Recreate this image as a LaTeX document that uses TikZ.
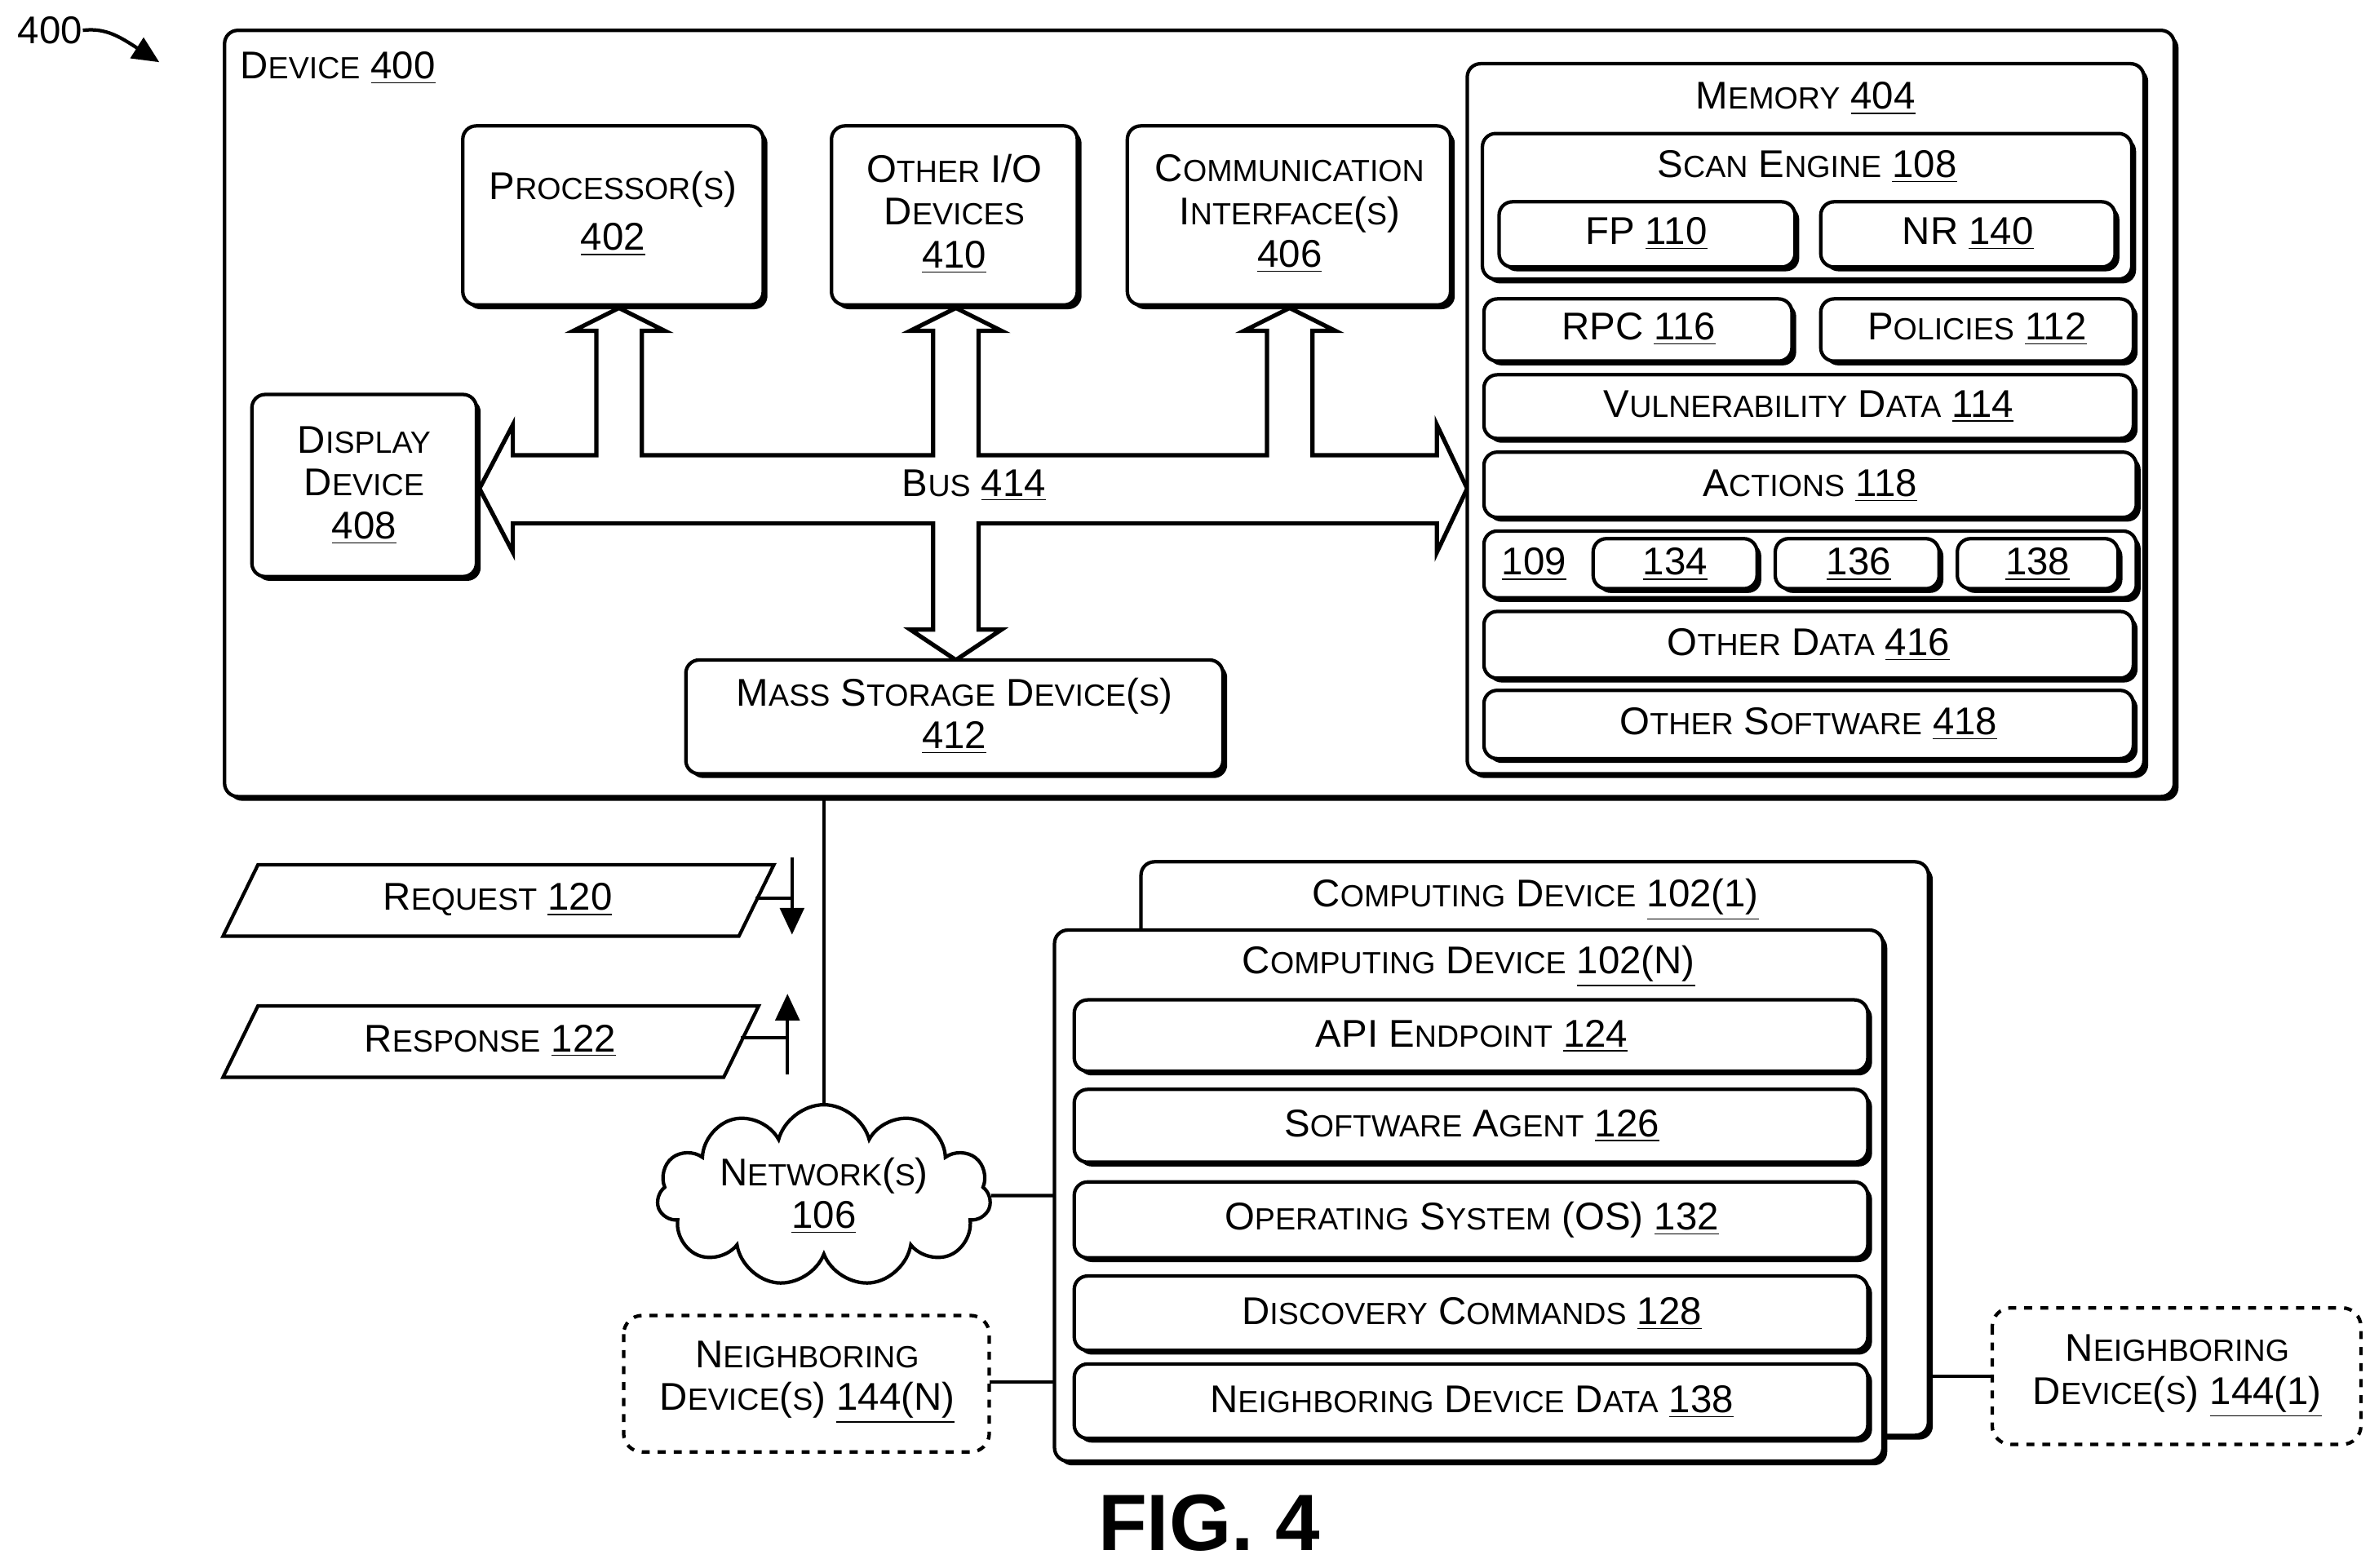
\documentclass[tikz,border=0pt]{standalone}
\usepackage{fontspec}
\setmainfont{Liberation Sans}
\usetikzlibrary{shadows,shapes.symbols,arrows.meta}
\newcommand\sm[1]{{\fontsize{11.5}{18}\selectfont #1}}
\newcommand\ul[1]{\underline{#1}}
\begin{document}
\begin{tikzpicture}[x=0.02cm,y=-0.02cm,
  every node/.style={font=\fontsize{14.5}{17}\selectfont, align=center, inner sep=0pt},
  box/.style={draw, line width=1.3pt, rounded corners=5pt, fill=white,
     drop shadow={shadow xshift=1.6pt, shadow yshift=-1.6pt, fill=black, opacity=1}},
  nb/.style={draw, line width=1.3pt, dashed, rounded corners=7pt, fill=white},
  ln/.style={line width=1.3pt},
  arr/.style={line width=1.3pt, -{Triangle[length=10pt,width=9pt]}}]
\useasboundingbox (0,0) rectangle (1562,1033);
% 400
\node (l400) at (33,20) {400};
\coordinate (a400) at (105,41);
\draw[arr] (l400.east) .. controls (70,18) and (80,25) .. (a400);
% Device 400
\draw[box] (148,20) rectangle (1433,525);
\node[anchor=west] (dev) at (158,45) {D\sm{EVICE} \ul{400}};
% Bus
\draw[line width=1.6pt, fill=white] (316,322) -- (338,280) -- (338,300) -- (393,300) -- (393,218) -- (378,218) -- (408,203) -- (438,218) -- (423,218) -- (423,300) -- (615,300) -- (615,218) -- (600,218) -- (630,203) -- (660,218) -- (645,218) -- (645,300) -- (835,300) -- (835,218) -- (820,218) -- (850,203) -- (880,218) -- (865,218) -- (865,300) -- (947,300) -- (947,280) -- (967,322) -- (947,364) -- (947,345) -- (645,345) -- (645,415) -- (660,415) -- (630,435) -- (600,415) -- (615,415) -- (615,345) -- (338,345) -- (338,364) -- cycle;
\node[fill=white, inner sep=1pt] (bus) at (642,320) {B\sm{US} \ul{414}};
% top boxes
\draw[box] (305,83) rectangle (503,201);
\node (proc) at (404,141) {P\sm{ROCESSOR}(\sm{S})\\[2pt]\ul{402}};
\draw[box] (548,83) rectangle (710,201);
\node (io) at (629,141) {O\sm{THER} I/O\\[-1pt]D\sm{EVICES}\\[-1pt]\ul{410}};
\draw[box] (743,83) rectangle (956,201);
\node (comm) at (850,141) {C\sm{OMMUNICATION}\\[-1pt]I\sm{NTERFACE}(\sm{S})\\[-1pt]\ul{406}};
\draw[box] (166,260) rectangle (314,380);
\node (disp) at (240,320) {D\sm{ISPLAY}\\[-1pt]D\sm{EVICE}\\[-1pt]\ul{408}};
\draw[box] (452,435) rectangle (806,510);
\node (mass) at (629,472) {M\sm{ASS} S\sm{TORAGE} D\sm{EVICE}(\sm{S})\\[-1pt]\ul{412}};
% Memory
\draw[box] (967,42) rectangle (1413,510);
\node (mem) at (1190,65) {M\sm{EMORY} \ul{404}};
\draw[box] (977,88) rectangle (1405,184);
\node (scan) at (1191,110) {S\sm{CAN} E\sm{NGINE} \ul{108}};
\draw[box] (988,133) rectangle (1183,176); \node (fp) at (1085,154) {FP \ul{110}};
\draw[box] (1200,133) rectangle (1394,176); \node (nr) at (1297,154) {NR \ul{140}};
\draw[box] (978,197) rectangle (1181,238); \node (rpc) at (1080,217) {RPC \ul{116}};
\draw[box] (1200,197) rectangle (1406,238); \node (pol) at (1303,217) {P\sm{OLICIES} \ul{112}};
\draw[box] (978,247) rectangle (1406,289); \node (vul) at (1192,268) {V\sm{ULNERABILITY} D\sm{ATA} \ul{114}};
\draw[box] (978,298) rectangle (1408,341); \node (act) at (1193,320) {A\sm{CTIONS} \ul{118}};
\draw[box] (978,350) rectangle (1408,394); \node (n109) at (1011,372) {\ul{109}};
\draw[box] (1050,355) rectangle (1158,388); \node (n134) at (1104,372) {\ul{134}};
\draw[box] (1170,355) rectangle (1278,388); \node (n136) at (1225,372) {\ul{136}};
\draw[box] (1290,355) rectangle (1396,388); \node (n138) at (1343,372) {\ul{138}};
\draw[box] (978,403) rectangle (1406,447); \node (od) at (1192,425) {O\sm{THER} D\sm{ATA} \ul{416}};
\draw[box] (978,455) rectangle (1406,500); \node (os) at (1192,477) {O\sm{THER} S\sm{OFTWARE} \ul{418}};
% network
\node[cloud, draw, line width=1.3pt, fill=white, cloud puffs=11, minimum width=4.4cm, minimum height=1.95cm, aspect=2.4] (net) at (543,788) {N\sm{ETWORK}(\sm{S})\\[-1pt]\ul{106}};
\coordinate (devb) at (543,525);
\draw[ln] (devb) -- (net.north);
% request / response
\draw[ln, fill=white] (147,617) -- (170,570) -- (510,570) -- (487,617) -- cycle;
\node (req) at (328,593) {R\sm{EQUEST} \ul{120}};
\draw[ln, fill=white] (147,710) -- (170,663) -- (500,663) -- (477,710) -- cycle;
\node (resp) at (323,686) {R\sm{ESPONSE} \ul{122}};
\coordinate (rq1) at (522,565); \coordinate (rq2) at (522,616); \coordinate (rqh) at (498,592); \coordinate (rqv) at (522,592);
\draw[arr] (rq1) -- (rq2);
\draw[ln] (rqh) -- (rqv);
\coordinate (rs1) at (519,708); \coordinate (rs2) at (519,655); \coordinate (rsh) at (488,684); \coordinate (rsv) at (519,684);
\draw[arr] (rs1) -- (rs2);
\draw[ln] (rsh) -- (rsv);
% computing devices
\draw[box] (752,568) rectangle (1271,946);
\node (cd1) at (1012,593) {C\sm{OMPUTING} D\sm{EVICE} \ul{102(1)}};
\draw[box] (695,613) rectangle (1241,963);
\node (cdn) at (968,637) {C\sm{OMPUTING} D\sm{EVICE} \ul{102(N)}};
\draw[box] (708,659) rectangle (1231,706); \node (api) at (970,683) {API E\sm{NDPOINT} \ul{124}};
\draw[box] (708,718) rectangle (1231,766); \node (sa) at (970,742) {S\sm{OFTWARE} A\sm{GENT} \ul{126}};
\draw[box] (708,779) rectangle (1231,829); \node (ops) at (970,804) {O\sm{PERATING} S\sm{YSTEM} (OS) \ul{132}};
\draw[box] (708,841) rectangle (1231,890); \node (disc) at (970,866) {D\sm{ISCOVERY} C\sm{OMMANDS} \ul{128}};
\draw[box] (708,899) rectangle (1231,948); \node (ndd) at (970,924) {N\sm{EIGHBORING} D\sm{EVICE} D\sm{ATA} \ul{138}};
\coordinate (cdl) at (695,788);
\draw[ln] (net.east) -- (cdl);
% neighbors
\draw[nb] (411,867) rectangle (652,957);
\node (nbn) at (532,911) {N\sm{EIGHBORING}\\[-1pt]D\sm{EVICE}(\sm{S}) \ul{144(N)}};
\coordinate (nbnr) at (652,911); \coordinate (cdnl) at (695,911);
\draw[ln] (nbnr) -- (cdnl);
\draw[nb] (1313,862) rectangle (1556,952);
\node (nb1) at (1435,907) {N\sm{EIGHBORING}\\[-1pt]D\sm{EVICE}(\sm{S}) \ul{144(1)}};
\coordinate (nb1l) at (1313,907); \coordinate (cd1r) at (1271,907);
\draw[ln] (cd1r) -- (nb1l);
\node[font=\fontsize{30}{34}\selectfont\bfseries] (fig) at (797,1004) {FIG. 4};
\end{tikzpicture}
\end{document}
